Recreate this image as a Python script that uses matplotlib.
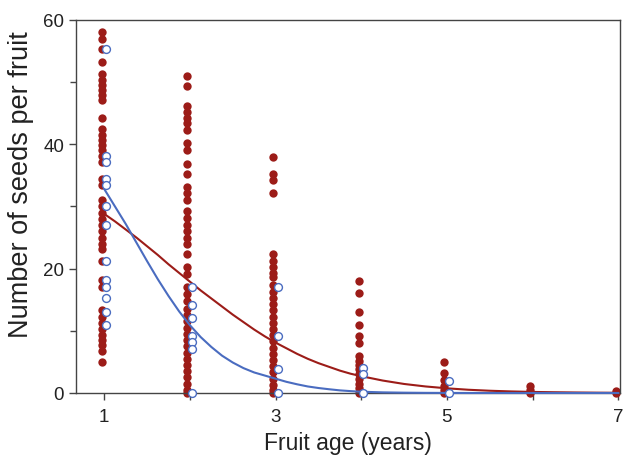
import matplotlib.pyplot as plt
from matplotlib.ticker import MultipleLocator

# seeds per fruit (filled = red, open = blue)
red_1 = [58, 57, 55.3, 53.2, 51.3, 50.4, 49.6, 48.8, 48, 47.2, 44.2, 42.4, 41.5,
         40.7, 39.9, 39.1, 38.2, 37.2, 34.4, 33.4, 31, 30, 29, 28, 27, 26, 25, 24,
         23.2, 21.2, 18.2, 17, 13.3, 12.3, 11.3, 10.3, 9.4, 8.5, 7.7, 6.8, 5.0]
red_2 = [51, 49.3, 46.2, 45.2, 44.2, 43.4, 42.3, 40.2, 39.1, 36.9, 35.2, 33.2,
         32.1, 31, 29.2, 28.2, 27.1, 26, 25, 24, 22.3, 20.3, 19.2, 17, 16, 14.8,
         13.5, 12.5, 11.5, 10.5, 9.5, 8.5, 7.5, 6.5, 5.5, 4.5, 3.5, 2.5, 1.5, 0.5, 0]
red_3 = [38, 35.3, 34.2, 32.1, 22.4, 21.3, 20.3, 19.3, 18.7, 17.3, 16.3, 15.3,
         14.3, 13.3, 12.3, 11.3, 10.3, 9.3, 8.3, 7.3, 6.3, 5.3, 4.3, 3.3, 2.3,
         1.3, 0.4, 0]
red_4 = [18, 16.1, 13, 10.9, 9.1, 8.1, 6, 5.2, 4.5, 3.8, 3, 2.2, 1.5, 0.8, 0]
red_5 = [5, 3.2, 2.1, 1.2, 0.4, 0]
red_6 = [1.2, 0.5, 0]
red_7 = [0.3, 0]

blue_1 = [55.3, 38.2, 37.2, 34.4, 33.4, 30, 27.1, 21.2, 18.2, 17, 15.2, 13, 11]
blue_2 = [17, 14.1, 12.1, 9.2, 8.2, 7.1, 0]
blue_3 = [17, 9.1, 3.9, 0]
blue_4 = [4, 3.1, 0]
blue_5 = [2, 0]

# fitted curves
fit_x = [1.0, 1.125, 1.25, 1.375, 1.5, 1.625, 1.75, 1.875, 2.0, 2.125, 2.25,
         2.375, 2.5, 2.625, 2.75, 2.875, 3.0, 3.125, 3.25, 3.375, 3.5, 3.625,
         3.75, 3.875, 4.0, 4.25, 4.5, 4.75, 5.0, 5.25, 5.5, 5.75, 6.0, 6.25,
         6.5, 6.75, 7.0]
red_fit = [28.8, 27.6, 26.3, 25.0, 23.6, 22.2, 20.7, 19.3, 17.9, 16.5, 15.2,
           13.9, 12.6, 11.4, 10.2, 9.1, 8.1, 7.2, 6.3, 5.5, 4.8, 4.2,
           3.6, 3.1, 2.7, 2.0, 1.45, 1.05, 0.75, 0.52, 0.36, 0.25, 0.17, 0.12,
           0.08, 0.05, 0.03]
blue_fit = [32.8, 30.0, 27.2, 24.2, 21.2, 18.3, 15.6, 13.1, 10.9, 9.0, 7.4,
            6.0, 4.9, 4.0, 3.3, 2.8, 2.3, 1.8, 1.4, 1.05, 0.8, 0.6,
            0.42, 0.3, 0.2, 0.1, 0.05, 0.02, 0.01, 0, 0, 0, 0, 0,
            0, 0, 0]

red_groups = [red_1, red_2, red_3, red_4, red_5, red_6, red_7]
blue_groups = [blue_1, blue_2, blue_3, blue_4, blue_5]

RED = '#9c1c18'
BLUE = '#4a6cc0'

plt.rcParams['font.family'] = ['Liberation Sans', 'DejaVu Sans']

fig = plt.figure(figsize=(6.25, 4.56), dpi=100)
ax = fig.add_axes([0.1216, 0.136, 0.8704, 0.818])

for age, vals in enumerate(red_groups, start=1):
    ax.scatter([age - 0.03] * len(vals), vals, s=36, color=RED,
               linewidths=0, zorder=2, clip_on=False)

ax.plot(fit_x, red_fit, color=RED, lw=1.5, zorder=3, clip_on=False)
ax.plot(fit_x, blue_fit, color=BLUE, lw=1.5, zorder=3, clip_on=False)

for age, vals in enumerate(blue_groups, start=1):
    ax.scatter([age + 0.025] * len(vals), vals, s=32, facecolor='white',
               edgecolor=BLUE, linewidths=1.0, zorder=4, clip_on=False)

ax.set_xlim(0.67, 7.02)
ax.set_ylim(0, 60)

ax.set_xticks([1, 2, 3, 4, 5, 6, 7])
ax.set_xticklabels(['1', '', '3', '', '5', '', '7'])
ax.set_yticks([0, 20, 40, 60])
ax.yaxis.set_minor_locator(MultipleLocator(10))
ax.tick_params(axis='both', which='major', direction='out', length=5,
               width=1, labelsize=13.5, color='#444444', labelcolor='#222222')
ax.tick_params(axis='y', which='minor', direction='out', length=4,
               width=1, color='#444444')
ax.tick_params(axis='x', pad=6)

for sp in ax.spines.values():
    sp.set_color('#444444')
    sp.set_linewidth(1)

ax.set_xlabel('Fruit age (years)', fontsize=16.5, color='#222222', labelpad=4)
ax.set_ylabel('Number of seeds per fruit', fontsize=19.5, color='#222222')
ax.yaxis.set_label_coords(-0.078, 0.56)

fig.savefig('out.png', dpi=100)
